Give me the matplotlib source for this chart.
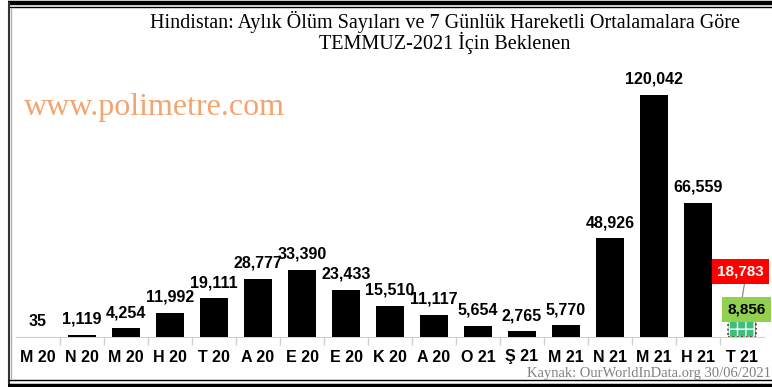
import numpy as np
import matplotlib.pyplot as plt
from matplotlib.lines import Line2D

months = ["M 20", "N 20", "M 20", "H 20", "T 20", "A 20", "E 20", "E 20", "K 20",
          "A 20", "O 21", "Ş 21", "M 21", "N 21", "M 21", "H 21", "T 21"]
deaths = [35, 1119, 4254, 11992, 19111, 28777, 33390, 23433, 15510,
          11117, 5654, 2765, 5770, 48926, 120042, 66559]
july_so_far = 8856
july_expected = 18783

W, H = 772, 387
fig = plt.figure(figsize=(W / 100, H / 100), dpi=100)
fig.patch.set_facecolor("white")

ax = fig.add_axes([16 / W, (H - 337) / H, (764 - 16) / W, (337 - 80) / H])
x = np.arange(len(months))

ax.bar(x[:-1], deaths, width=0.63, color="black", zorder=3)
for xi, v in zip(x[:-1], deaths):
    ax.annotate(f"{v:,}", (xi, v), xytext=(0, 6), textcoords="offset points",
                ha="center", va="bottom", fontsize=11.5, fontweight="bold",
                family="Liberation Sans")

# July: partial month plus expected total
ax.bar(x[-1], july_so_far, width=0.63, color="#3DBE7A", hatch="++",
       edgecolor="white", linewidth=0, zorder=3)
ax.bar(x[-1], july_expected, width=0.63, facecolor="none",
       edgecolor="#7A1010", linestyle=":", linewidth=1.2, zorder=4)
ax.annotate(f"{july_expected:,}", (x[-1], july_expected), xytext=(-1, 15),
            textcoords="offset points", ha="center", va="bottom",
            fontsize=11, fontweight="bold", color="white", family="Liberation Sans",
            bbox=dict(boxstyle="square,pad=0.35", fc="#FF0000", ec="none"),
            arrowprops=dict(arrowstyle="-", color="gray", lw=0.8,
                            shrinkA=0, shrinkB=0,
                            relpos=(0.6, 0)), annotation_clip=False, zorder=6)
ax.annotate(f"{july_so_far:,}", (x[-1], july_so_far), xytext=(3, 2),
            textcoords="offset points", ha="center", va="bottom",
            fontsize=11, fontweight="bold", color="black", family="Liberation Sans",
            bbox=dict(boxstyle="square,pad=0.35", fc="#92D050", ec="none"),
            annotation_clip=False, zorder=7)

ax.set_xlim(-0.5, len(months) - 0.5)
ax.set_ylim(0, 127500)
ax.set_xticks(x)
ax.set_xticklabels(months, fontsize=11.5, fontweight="bold", family="Liberation Sans")
ax.set_xticks(np.arange(len(months) - 1) + 0.5, minor=True)
ax.tick_params(axis="x", which="major", length=0, pad=9)
ax.tick_params(axis="x", which="minor", length=6, color="#D0D0D0", width=1)
ax.set_yticks([])
for side in ["left", "right", "top"]:
    ax.spines[side].set_visible(False)
ax.spines["bottom"].set_color("#D0D0D0")
ax.set_facecolor("none")

fig.text(445 / W, 1 - 22 / H,
         "Hindistan: Aylık Ölüm Sayıları ve 7 Günlük Hareketli Ortalamalara Göre",
         ha="center", va="center", fontsize=14.5, family="Liberation Serif")
fig.text(445 / W, 1 - 43 / H, "TEMMUZ-2021 İçin Beklenen",
         ha="center", va="center", fontsize=14.5, family="Liberation Serif")
fig.text(24 / W, 1 - 108 / H, "www.polimetre.com", ha="left", va="center",
         fontsize=23, family="Liberation Serif", color="#F4A46E")
fig.text(771 / W, 1 - 374 / H, "Kaynak: OurWorldInData.org 30/06/2021",
         ha="right", va="center", fontsize=10.5, family="Liberation Serif",
         color="#808080")

# double-line frame
def fline(xs, ys, lw, color="black"):
    fig.add_artist(Line2D([v / W for v in xs], [1 - v / H for v in ys],
                          lw=lw, color=color, solid_capstyle="butt"))

fline([8, W], [2.5, 2.5], 3.2)
fline([8, W], [6.5, 6.5], 1.0)
fline([9, 9], [2, 386], 1.5, "#333333")
fline([11, 11], [8, 379], 1.0, "#B0B0B0")
fline([8, W], [380, 380], 1.0)
fline([8, W], [385.5, 385.5], 3.2)

fig.savefig("out.png", dpi=100)
